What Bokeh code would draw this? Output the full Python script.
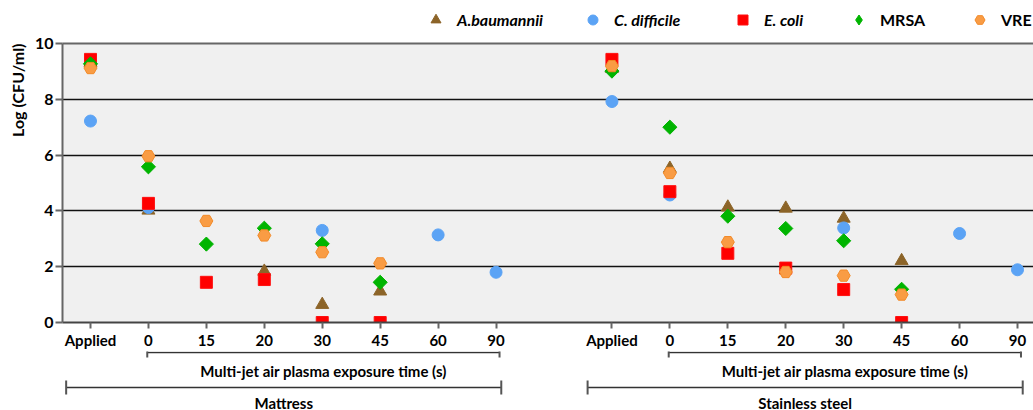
import math
from bokeh.plotting import figure
from bokeh.layouts import column
from bokeh.models import (FixedTicker, Legend, LegendItem, Whisker, TeeHead, Label,
                          LinearAxis, ColumnDataSource, Range1d, Title)
from bokeh.embed import file_html
from bokeh.resources import INLINE

nan = float("nan")

# ---------------- data ----------------
categories = ["Applied", "0", "15", "20", "30", "45", "60", "90"]
surfaces = ["Mattress", "Stainless steel"]
exposure_label = "Multi-jet air plasma exposure time (s)"
y_label = "Log (CFU/ml)"
y_ticks = [0, 2, 4, 6, 8, 10]

mat_abaumannii = [9.30, 4.02, nan, 1.83, 0.64, 1.12, nan, nan]
mat_cdifficile = [7.22, 4.12, nan, nan, 3.30, nan, 3.14, 1.80]
mat_ecoli = [9.43, 4.27, 1.44, 1.54, 0.00, 0.00, nan, nan]
mat_mrsa = [9.27, 5.58, 2.81, 3.38, 2.82, 1.44, nan, nan]
mat_vre = [9.12, 5.96, 3.64, 3.12, 2.52, 2.12, nan, nan]

ss_abaumannii = [9.10, 5.52, 4.13, 4.09, 3.73, 2.21, nan, nan]
ss_cdifficile = [7.92, 4.57, nan, nan, 3.39, nan, 3.19, 1.89]
ss_ecoli = [9.43, 4.69, 2.48, 1.95, 1.18, 0.00, nan, nan]
ss_mrsa = [9.01, 7.00, 3.81, 3.37, 2.93, 1.19, nan, nan]
ss_vre = [9.19, 5.36, 2.88, 1.81, 1.68, 1.00, nan, nan]

series_names = ["A.baumannii", "C. difficile", "E. coli", "MRSA", "VRE"]
mattress_values = [mat_abaumannii, mat_cdifficile, mat_ecoli, mat_mrsa, mat_vre]
steel_values = [ss_abaumannii, ss_cdifficile, ss_ecoli, ss_mrsa, ss_vre]

# ---------------- styles ----------------
styles = [
    dict(marker="triangle", legend_marker="triangle", angle=0.0, color="#8c6428", line="#8c6428", size=13, italic=True),
    dict(marker="circle", legend_marker="circle", angle=0.0, color="#5ba3f5", line="#5ba3f5", size=12, italic=True),
    dict(marker="square", legend_marker="square", angle=0.0, color="#ff0000", line="#ff1010", size=12, italic=True),
    dict(marker="square", legend_marker="diamond", angle=math.pi / 4, color="#00b400", line="#00b400", size=10, italic=False),
    dict(marker="hex", legend_marker="hex", angle=0.0, color="#f99c44", line="#f28a28", size=13, italic=False),
]
FONT = "Lato"
W = 1033
LEFT = 61

n = len(categories)
offsets = [0, n + 1]          # one empty slot between the two surfaces


def xpos(group):
    return [offsets[group] + i for i in range(n)]


x_range = Range1d(-0.483, 16.276)

# ---------------- legend strip ----------------
LEG_H = 32
pl = figure(width=W, height=LEG_H, output_backend="svg", toolbar_location=None,
            x_range=x_range, y_range=(0, 1), x_axis_type=None, y_axis_type=None,
            min_border_left=LEFT, min_border_right=0, min_border_top=0, min_border_bottom=0)
pl.outline_line_color = None
pl.background_fill_color = "white"
pl.border_fill_color = "white"

legend_x = [361, 518, 668, 784, 905]
for k, name in enumerate(series_names):
    st = styles[k]
    dummy = pl.scatter(x=[0], y=[nan], marker=st["legend_marker"], size=st["size"],
                       fill_color=st["color"], line_color=st["line"])
    lg = Legend(items=[LegendItem(label=name, renderers=[dummy])],
                location=(legend_x[k], 0), orientation="horizontal",
                glyph_width=25, glyph_height=25, label_height=24, label_standoff=9,
                padding=0, margin=0, border_line_color=None, background_fill_alpha=0,
                label_text_font=FONT,
                label_text_font_style="bold italic" if st["italic"] else "bold",
                label_text_font_size="16px", label_text_color="black")
    pl.add_layout(lg, "center")

# ---------------- main chart ----------------
TOP, FRAME_H, BOTTOM = 43 - LEG_H, 280, 28
p = figure(width=W, height=TOP + FRAME_H + BOTTOM, output_backend="svg", toolbar_location=None,
           x_range=x_range, y_range=(0, 10),
           min_border_left=LEFT, min_border_right=0, min_border_top=TOP, min_border_bottom=BOTTOM)
p.background_fill_color = "#f0f0f0"
p.border_fill_color = "white"
p.outline_line_color = None

xa = p.xaxis[0]
tick_positions = xpos(0) + xpos(1)
xa.ticker = FixedTicker(ticks=tick_positions)
xa.major_label_overrides = {t: lab for t, lab in zip(tick_positions, categories + categories)}
xa.axis_line_color = "#444444"
xa.axis_line_width = 2
xa.major_tick_line_color = "#666666"
xa.major_tick_line_width = 2
xa.major_tick_out = 6
xa.major_tick_in = 0
xa.minor_tick_line_color = None
xa.major_label_standoff = 2
xa.major_label_text_font = FONT
xa.major_label_text_font_style = "bold"
xa.major_label_text_font_size = "15px"
xa.major_label_text_color = "black"

ya = p.yaxis[0]
ya.ticker = FixedTicker(ticks=y_ticks)
ya.axis_line_color = "#666666"
ya.axis_line_width = 2
ya.major_tick_line_color = "#666666"
ya.major_tick_line_width = 2
ya.major_tick_out = 7
ya.major_tick_in = 0
ya.minor_tick_line_color = None
ya.major_label_standoff = 2
ya.major_label_text_font = FONT
ya.major_label_text_font_style = "bold"
ya.major_label_text_font_size = "16px"
ya.major_label_text_color = "black"

p.add_layout(Title(text=y_label, align="right", text_font=FONT, text_font_style="bold",
                   text_font_size="16px", text_color="black"), "left")

top_axis = LinearAxis(ticker=FixedTicker(ticks=[]), axis_line_color="#666666",
                      axis_line_width=2, major_tick_out=0, major_tick_in=0,
                      minor_tick_line_color=None, major_label_text_font_size="0px")
p.add_layout(top_axis, "above")

p.xgrid.grid_line_color = None
p.ygrid.ticker = FixedTicker(ticks=[2, 4, 6, 8])
p.ygrid.grid_line_color = "#111111"
p.ygrid.grid_line_width = 1.6

for k, name in enumerate(series_names):
    st = styles[k]
    xs = xpos(0) + xpos(1)
    ys = mattress_values[k] + steel_values[k]
    src = ColumnDataSource(dict(x=xs, y=ys))
    p.scatter("x", "y", source=src, marker=st["marker"], angle=st["angle"], size=st["size"],
              fill_color=st["color"], line_color=st["line"], line_width=1)

# ---------------- bracket strip ----------------
BR_H = 410 - LEG_H - (TOP + FRAME_H + BOTTOM)
pb = figure(width=W, height=BR_H, output_backend="svg", toolbar_location=None,
            x_range=x_range, y_range=Range1d(BR_H, 0), x_axis_type=None, y_axis_type=None,
            min_border_left=LEFT, min_border_right=0, min_border_top=0, min_border_bottom=0)
pb.outline_line_color = None
pb.background_fill_color = "white"
pb.border_fill_color = "white"


def bracket(lower, upper, base, tee, text, text_y):
    src = ColumnDataSource(dict(base=[base], lower=[lower], upper=[upper]))
    w = Whisker(source=src, base="base", lower="lower", upper="upper", dimension="width",
                line_color="#333333", line_width=1.5,
                lower_head=TeeHead(size=tee, line_color="#555555", line_width=2),
                upper_head=TeeHead(size=tee, line_color="#555555", line_width=2))
    pb.add_layout(w)
    pb.add_layout(Label(x=(lower + upper) / 2, y=text_y, text=text, text_align="center",
                        text_baseline="middle", text_font=FONT, text_font_style="bold",
                        text_font_size="15px", text_color="black"))


for g, surf in enumerate(surfaces):
    xs = xpos(g)
    bracket(xs[1] - 0.02, xs[-1] + 0.06, 1, 10, exposure_label, 19)
    bracket(xs[0] - 0.42, xs[-1] + 0.09, 36, 14, surf, 51)

layout = column(pl, p, pb, spacing=0)
open("out.html", "w").write(file_html(layout, INLINE))
